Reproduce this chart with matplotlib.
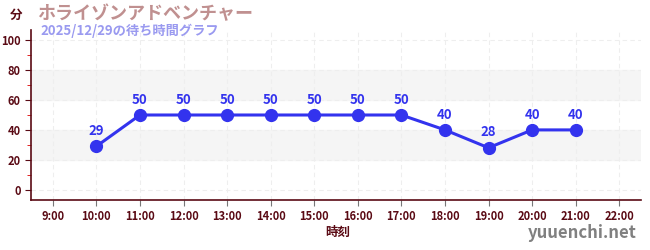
import matplotlib
matplotlib.use('Agg')
import matplotlib.pyplot as plt
from matplotlib.ticker import MultipleLocator

plt.rcParams['font.family'] = ['Noto Sans CJK JP', 'DejaVu Sans']

# data
hours = [10, 11, 12, 13, 14, 15, 16, 17, 18, 19, 20, 21]
waits = [29, 50, 50, 50, 50, 50, 50, 50, 40, 28, 40, 40]
tick_hours = list(range(9, 23))
tick_labels = [f'{h}:00' for h in tick_hours]
title = 'ホライゾンアドベンチャー'
subtitle = '2025/12/29の待ち時間グラフ'

dark = '#5a0a14'
blue = '#3333ee'

fig = plt.figure(figsize=(6.5, 2.5), dpi=100)
ax = fig.add_axes([0.0477, 0.2, 0.9385, 0.68])

# shaded bands
for lo, hi in [(20, 40), (60, 80)]:
    ax.axhspan(lo, hi, color='#f5f5f5', zorder=0)

ax.plot(hours, waits, color=blue, linewidth=2.2, marker='o', markersize=8.5, zorder=3)
for h, w in zip(hours, waits):
    ax.annotate(str(w), (h, w), xytext=(0, 6), textcoords='offset points',
                ha='center', va='bottom', color=blue, fontsize=9.5, fontweight='bold')

ax.set_xlim(8.5, 22.5)
ax.set_ylim(-7, 107)
ax.set_xticks(tick_hours)
ax.set_xticklabels(tick_labels)
ax.set_yticks([0, 20, 40, 60, 80, 100])
ax.yaxis.set_minor_locator(MultipleLocator(10))
ax.tick_params(axis='y', which='minor', length=3, color='#dd0000')
ax.tick_params(axis='both', which='major', labelsize=8, labelcolor=dark, color=dark, length=4)
ax.tick_params(axis='x', color='#777777')
for lbl in ax.get_xticklabels() + ax.get_yticklabels():
    lbl.set_fontweight('bold')

ax.grid(True, color='#eeeeee', linestyle=(0, (4, 3)), linewidth=0.8)
ax.set_axisbelow(True)
for side in ['top', 'right']:
    ax.spines[side].set_visible(False)
for side in ['left', 'bottom']:
    ax.spines[side].set_color(dark)
    ax.spines[side].set_linewidth(1.2)

fig.text(0.015, 0.94, '分', color=dark, fontsize=9, fontweight='bold', va='center')
fig.text(0.057, 0.945, title, color='#c09090', fontsize=13, fontweight='bold', va='center')
fig.text(0.062, 0.875, subtitle, color='#9a9af0', fontsize=9.5, fontweight='bold', va='center')
fig.text(0.52, 0.072, '時刻', color=dark, fontsize=9, fontweight='bold', ha='center', va='center')
fig.text(0.98, 0.07, 'yuuenchi.net', color='#808080', fontsize=12, fontweight='bold', ha='right', va='center')

fig.savefig('out.png', dpi=100)
